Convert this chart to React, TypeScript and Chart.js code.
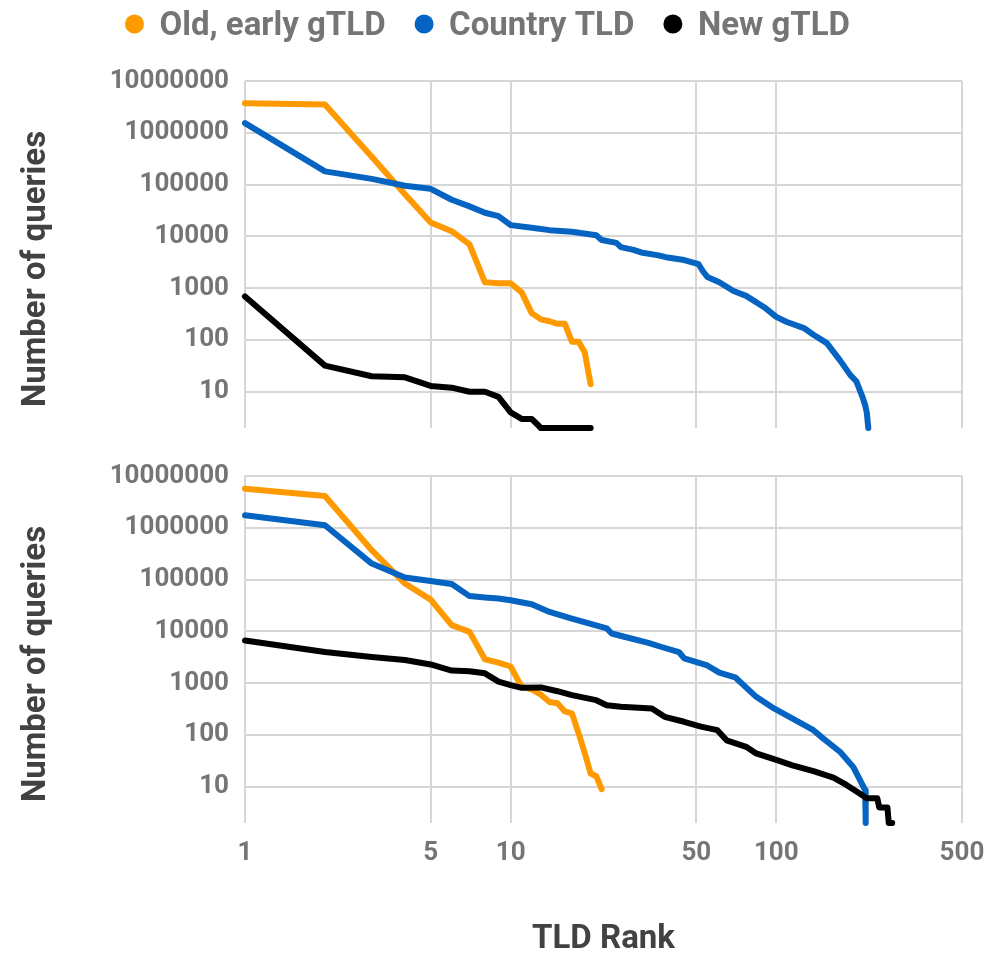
import React, { useEffect, useRef } from 'react';
import { Chart, registerables } from 'chart.js';

Chart.register(...registerables);

// ---------- data ----------
const seriesNames = ['Old, early gTLD', 'Country TLD', 'New gTLD'];
const seriesColors = ['#FF9900', '#0563C1', '#000000'];

const xTickValues = [1, 5, 10, 50, 100, 500];
const yTickValues = [10, 100, 1000, 10000, 100000, 1000000, 10000000];

// Top panel
const topOldRanks = [1, 2, 3, 4, 5, 6, 7, 8, 9, 10, 11, 12, 13, 14, 15, 16, 17, 18, 19, 20];
const topOldValues = [3700000, 3500000, 345000, 65000, 18600, 12600, 7000, 1300, 1250, 1250, 830, 330, 250, 230, 205, 205, 93, 93, 58, 14];

const topCountryRanks = [1, 2, 3, 4, 5, 6, 7, 8, 9, 10, 12, 14, 17, 21, 22, 25, 26, 29, 31, 36, 39, 45, 51, 53, 55, 61, 69, 77, 90, 100, 109, 127, 138, 155, 174, 190, 200, 211, 216, 219, 222];
const topCountryValues = [1540000, 180000, 129000, 95000, 83000, 51000, 38000, 28600, 24600, 16500, 14700, 13200, 12300, 10500, 8500, 7500, 6200, 5500, 4900, 4300, 3900, 3500, 2900, 2100, 1650, 1300, 880, 710, 430, 280, 225, 170, 126, 87, 40, 21, 16, 8, 5.5, 4, 2];

const topNewRanks = [1, 2, 3, 4, 5, 6, 7, 8, 9, 10, 11, 12, 13, 14, 15, 16, 17, 18, 19, 20];
const topNewValues = [690, 32, 20, 19, 13, 12, 10, 10, 8, 4, 3, 3, 2, 2, 2, 2, 2, 2, 2, 2];

// Bottom panel
const bottomOldRanks = [1, 2, 3, 4, 5, 6, 7, 8, 9, 10, 11, 12, 13, 14, 15, 16, 17, 18, 19, 20, 21, 22];
const bottomOldValues = [5700000, 4100000, 369000, 84000, 41000, 13200, 9800, 2900, 2500, 2100, 850, 760, 600, 435, 410, 285, 262, 110, 45, 18, 16, 9];

const bottomCountryRanks = [1, 2, 3, 4, 5, 6, 7, 8, 9, 10, 12, 14, 17, 23, 24, 27, 33, 37, 43, 45, 55, 61, 70, 84, 98, 112, 138, 150, 174, 195, 216, 217];
const bottomCountryValues = [1740000, 1120000, 204000, 110000, 94000, 82000, 48000, 45000, 43000, 40000, 33500, 23800, 17700, 11400, 9100, 7800, 6000, 5000, 4000, 3000, 2200, 1600, 1300, 545, 325, 224, 124, 86, 47, 24, 8.6, 2];

const bottomNewRanks = [1, 2, 3, 4, 5, 6, 7, 8, 9, 10, 11, 13, 15, 17, 21, 23, 26, 34, 38, 45, 52, 60, 65, 77, 84, 100, 115, 138, 164, 183, 206, 219, 240, 244, 262, 265, 273];
const bottomNewValues = [6700, 4000, 3200, 2800, 2300, 1750, 1700, 1550, 1070, 915, 815, 830, 700, 590, 470, 376, 350, 325, 224, 180, 145, 124, 79, 59, 44, 33, 26, 20, 15, 11, 7.4, 6, 6, 4, 4, 2, 2];

// ---------- styling ----------
const FONT = 'Roboto';
const TICK_COLOR = '#757575';
const TITLE_COLOR = '#424242';
const GRID_COLOR = '#d6d6d6';

const legendPlugin = {
  id: 'panelLegend',
  afterDraw(chart: any, _args: any, opts: any) {
    if (!opts || !opts.display) return;
    const ctx = chart.ctx;
    ctx.save();
    ctx.font = `bold ${opts.fontSize}px ${FONT}`;
    const widths: number[] = opts.labels.map((t: string) => ctx.measureText(t).width);
    const r = opts.radius;
    const total = r + widths.reduce((s: number, w: number) => s + opts.textGap + w, 0) + opts.itemGap * (widths.length - 1);
    let x = opts.centerX - total / 2 + r;
    ctx.textAlign = 'left';
    ctx.textBaseline = 'alphabetic';
    opts.labels.forEach((t: string, i: number) => {
      ctx.fillStyle = opts.colors[i];
      ctx.beginPath();
      ctx.arc(x, opts.dotY, r, 0, Math.PI * 2);
      ctx.fill();
      ctx.fillStyle = TICK_COLOR;
      ctx.fillText(t, x + opts.textGap, opts.baselineY);
      x += opts.textGap + widths[i] + opts.itemGap;
    });
    ctx.restore();
  },
};

const yTitlePlugin = {
  id: 'yTitle',
  afterDraw(chart: any, _args: any, opts: any) {
    if (!opts || !opts.text) return;
    const ctx = chart.ctx;
    ctx.save();
    ctx.font = `bold ${opts.fontSize}px ${FONT}`;
    ctx.fillStyle = TITLE_COLOR;
    ctx.textAlign = 'center';
    ctx.textBaseline = 'middle';
    ctx.translate(opts.x, opts.y);
    ctx.rotate(-Math.PI / 2);
    ctx.fillText(opts.text, 0, 0);
    ctx.restore();
  },
};

function points(ranks: number[], values: number[]) {
  return ranks.map((r, i) => ({ x: r, y: values[i] }));
}

interface PanelProps {
  top: number;
  height: number;
  oldData: { x: number; y: number }[];
  countryData: { x: number; y: number }[];
  newData: { x: number; y: number }[];
  showLegend: boolean;
  showXLabels: boolean;
  padTop: number;
  xAxisHeight: number;
  yTitleY: number;
}

function Panel(p: PanelProps) {
  const ref = useRef<HTMLCanvasElement | null>(null);
  useEffect(() => {
    if (!ref.current) return;
    const lineStyle = {
      borderWidth: 6,
      pointRadius: 0,
      pointHoverRadius: 0,
      tension: 0,
      borderCapStyle: 'round',
      borderJoinStyle: 'round',
      clip: false,
      fill: false,
    };
    const chart = new Chart(ref.current, {
      type: 'line',
      data: {
        datasets: [
          { label: seriesNames[0], data: p.oldData, borderColor: seriesColors[0], backgroundColor: seriesColors[0], order: 2, ...lineStyle },
          { label: seriesNames[1], data: p.countryData, borderColor: seriesColors[1], backgroundColor: seriesColors[1], order: 1, ...lineStyle },
          { label: seriesNames[2], data: p.newData, borderColor: seriesColors[2], backgroundColor: seriesColors[2], order: 0, ...lineStyle },
        ],
      } as any,
      options: {
        animation: false,
        responsive: false,
        maintainAspectRatio: false,
        events: [],
        layout: { padding: { top: p.padTop, bottom: 0, left: 0, right: 42 } },
        plugins: {
          legend: { display: false },
          tooltip: { enabled: false },
          panelLegend: {
            display: p.showLegend,
            labels: seriesNames,
            colors: seriesColors,
            fontSize: 33,
            radius: 9.5,
            textGap: 25,
            itemGap: 38.5,
            centerX: 487.5,
            dotY: 24,
            baselineY: 34.5,
          },
          yTitle: { text: 'Number of queries', fontSize: 33, x: 37, y: p.yTitleY },
        } as any,
        scales: {
          x: {
            type: 'logarithmic',
            min: 1,
            max: 500,
            border: { display: false },
            grid: { color: GRID_COLOR, lineWidth: 2, drawTicks: false },
            afterBuildTicks: (scale: any) => {
              scale.ticks = xTickValues.map((v) => ({ value: v }));
            },
            afterFit: (scale: any) => {
              scale.height = p.xAxisHeight;
            },
            ticks: {
              display: p.showXLabels,
              autoSkip: false,
              maxRotation: 0,
              padding: 15,
              color: TICK_COLOR,
              font: { family: FONT, size: 26, weight: 'bold' },
              callback: (v: any) => String(v),
            },
            title: {
              display: p.showXLabels,
              text: 'TLD Rank',
              color: TITLE_COLOR,
              padding: 0,
              font: { family: FONT, size: 33, weight: 'bold', lineHeight: 1 },
            },
          },
          y: {
            type: 'logarithmic',
            min: 2,
            max: 10000000,
            border: { display: false },
            grid: { color: GRID_COLOR, lineWidth: 2, drawTicks: false },
            afterBuildTicks: (scale: any) => {
              scale.ticks = yTickValues.map((v) => ({ value: v }));
            },
            afterFit: (scale: any) => {
              scale.width = 245;
            },
            ticks: {
              autoSkip: false,
              padding: 16,
              color: TICK_COLOR,
              font: { family: FONT, size: 26, weight: 'bold' },
              callback: (v: any) => String(v),
            },
          },
        },
      } as any,
      plugins: [legendPlugin, yTitlePlugin] as any,
    });
    return () => chart.destroy();
  }, []);
  return (
    <canvas
      ref={ref}
      width={1004}
      height={p.height}
      style={{ position: 'absolute', left: 0, top: p.top, width: 1004, height: p.height }}
    />
  );
}

export default function App() {
  return (
    <div style={{ position: 'absolute', left: 0, top: 0, width: 1004, height: 953, background: '#ffffff', overflow: 'hidden' }}>
      <Panel
        top={0}
        height={460}
        oldData={points(topOldRanks, topOldValues)}
        countryData={points(topCountryRanks, topCountryValues)}
        newData={points(topNewRanks, topNewValues)}
        showLegend={true}
        showXLabels={false}
        padTop={81}
        xAxisHeight={32}
        yTitleY={269}
      />
      <Panel
        top={440}
        height={516}
        oldData={points(bottomOldRanks, bottomOldValues)}
        countryData={points(bottomCountryRanks, bottomCountryValues)}
        newData={points(bottomNewRanks, bottomNewValues)}
        showLegend={false}
        showXLabels={true}
        padTop={36}
        xAxisHeight={133}
        yTitleY={224}
      />
    </div>
  );
}
